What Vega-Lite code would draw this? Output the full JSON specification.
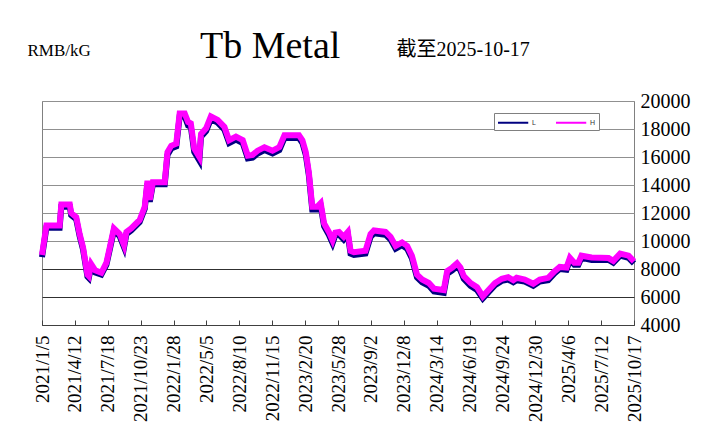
{
  "$schema": "https://vega.github.io/schema/vega-lite/v6.json",
  "width": 592,
  "height": 224,
  "autosize": "none",
  "padding": {"left": 42, "top": 101, "right": 70, "bottom": 107},
  "background": "white",
  "title": {"text": "Tb Metal", "anchor": "start", "frame": "group", "dx": 158, "dy": 57, "offset": 0, "font": "Liberation Serif", "fontSize": 38, "fontWeight": "normal", "color": "black", "baseline": "alphabetic"},
  "config": {
    "view": {"stroke": "#808080", "strokeWidth": 1}
  },
  "data": {"values": [
    {"date": "2021-01-05", "H": 9000, "L": 8850},
    {"date": "2021-01-18", "H": 11100, "L": 10950},
    {"date": "2021-02-26", "H": 11100, "L": 10950},
    {"date": "2021-03-03", "H": 12600, "L": 12450},
    {"date": "2021-03-28", "H": 12600, "L": 12450},
    {"date": "2021-04-01", "H": 12000, "L": 11850},
    {"date": "2021-04-16", "H": 11700, "L": 11550},
    {"date": "2021-04-26", "H": 10500, "L": 10350},
    {"date": "2021-05-06", "H": 9550, "L": 9400},
    {"date": "2021-05-19", "H": 7600, "L": 7450},
    {"date": "2021-05-23", "H": 7500, "L": 7350},
    {"date": "2021-05-30", "H": 8350, "L": 8200},
    {"date": "2021-06-11", "H": 7900, "L": 7750},
    {"date": "2021-06-29", "H": 7730, "L": 7600},
    {"date": "2021-07-14", "H": 8450, "L": 8300},
    {"date": "2021-07-24", "H": 9550, "L": 9400},
    {"date": "2021-08-05", "H": 10900, "L": 10750},
    {"date": "2021-08-22", "H": 10500, "L": 10350},
    {"date": "2021-09-04", "H": 9700, "L": 9550},
    {"date": "2021-09-11", "H": 10650, "L": 10500},
    {"date": "2021-09-25", "H": 10900, "L": 10750},
    {"date": "2021-10-20", "H": 11500, "L": 11350},
    {"date": "2021-11-04", "H": 12450, "L": 12300},
    {"date": "2021-11-12", "H": 14300, "L": 14100},
    {"date": "2021-11-19", "H": 12950, "L": 12800},
    {"date": "2021-11-28", "H": 14200, "L": 14050},
    {"date": "2022-01-02", "H": 14200, "L": 14050},
    {"date": "2022-01-10", "H": 16350, "L": 16150},
    {"date": "2022-01-21", "H": 16800, "L": 16600},
    {"date": "2022-02-05", "H": 16950, "L": 16750},
    {"date": "2022-02-15", "H": 19100, "L": 18900},
    {"date": "2022-03-02", "H": 19100, "L": 18900},
    {"date": "2022-03-12", "H": 18500, "L": 18250},
    {"date": "2022-03-20", "H": 18400, "L": 18150},
    {"date": "2022-03-30", "H": 16600, "L": 16350},
    {"date": "2022-04-14", "H": 16000, "L": 15750},
    {"date": "2022-04-19", "H": 17650, "L": 17450},
    {"date": "2022-05-04", "H": 18050, "L": 17850},
    {"date": "2022-05-18", "H": 18900, "L": 18700},
    {"date": "2022-06-07", "H": 18650, "L": 18450},
    {"date": "2022-06-27", "H": 18150, "L": 17950},
    {"date": "2022-07-11", "H": 17200, "L": 17000},
    {"date": "2022-07-31", "H": 17450, "L": 17250},
    {"date": "2022-08-20", "H": 17200, "L": 17000},
    {"date": "2022-09-04", "H": 16100, "L": 15900},
    {"date": "2022-09-18", "H": 16150, "L": 15950},
    {"date": "2022-10-03", "H": 16450, "L": 16250},
    {"date": "2022-10-23", "H": 16700, "L": 16500},
    {"date": "2022-11-16", "H": 16450, "L": 16250},
    {"date": "2022-12-06", "H": 16700, "L": 16500},
    {"date": "2022-12-21", "H": 17550, "L": 17350},
    {"date": "2023-02-02", "H": 17550, "L": 17350},
    {"date": "2023-02-12", "H": 17200, "L": 17000},
    {"date": "2023-02-22", "H": 16350, "L": 16150},
    {"date": "2023-03-03", "H": 14900, "L": 14700},
    {"date": "2023-03-13", "H": 12450, "L": 12250},
    {"date": "2023-03-28", "H": 12450, "L": 12250},
    {"date": "2023-04-07", "H": 12700, "L": 12500},
    {"date": "2023-04-17", "H": 11250, "L": 11050},
    {"date": "2023-05-01", "H": 10650, "L": 10450},
    {"date": "2023-05-12", "H": 10050, "L": 9850},
    {"date": "2023-05-20", "H": 10600, "L": 10400},
    {"date": "2023-05-31", "H": 10640, "L": 10450},
    {"date": "2023-06-14", "H": 10300, "L": 10100},
    {"date": "2023-06-26", "H": 10640, "L": 10450},
    {"date": "2023-07-04", "H": 9300, "L": 9100},
    {"date": "2023-07-14", "H": 9200, "L": 9000},
    {"date": "2023-08-17", "H": 9300, "L": 9100},
    {"date": "2023-09-01", "H": 10500, "L": 10300},
    {"date": "2023-09-11", "H": 10750, "L": 10550},
    {"date": "2023-10-15", "H": 10650, "L": 10450},
    {"date": "2023-10-30", "H": 10300, "L": 10100},
    {"date": "2023-11-14", "H": 9650, "L": 9450},
    {"date": "2023-12-03", "H": 9900, "L": 9700},
    {"date": "2023-12-18", "H": 9650, "L": 9450},
    {"date": "2024-01-01", "H": 8950, "L": 8750},
    {"date": "2024-01-16", "H": 7600, "L": 7400},
    {"date": "2024-01-31", "H": 7250, "L": 7050},
    {"date": "2024-02-20", "H": 7000, "L": 6800},
    {"date": "2024-03-06", "H": 6600, "L": 6400},
    {"date": "2024-04-04", "H": 6500, "L": 6300},
    {"date": "2024-04-14", "H": 7850, "L": 7650},
    {"date": "2024-04-29", "H": 8100, "L": 7900},
    {"date": "2024-05-13", "H": 8400, "L": 8200},
    {"date": "2024-05-23", "H": 8100, "L": 7900},
    {"date": "2024-06-02", "H": 7500, "L": 7300},
    {"date": "2024-06-22", "H": 7000, "L": 6800},
    {"date": "2024-07-11", "H": 6700, "L": 6500},
    {"date": "2024-07-28", "H": 6050, "L": 5900},
    {"date": "2024-08-14", "H": 6500, "L": 6350},
    {"date": "2024-09-02", "H": 7000, "L": 6850},
    {"date": "2024-09-22", "H": 7300, "L": 7150},
    {"date": "2024-10-11", "H": 7420, "L": 7250},
    {"date": "2024-10-26", "H": 7200, "L": 7050},
    {"date": "2024-11-05", "H": 7370, "L": 7200},
    {"date": "2024-11-29", "H": 7250, "L": 7100},
    {"date": "2024-12-24", "H": 6950, "L": 6800},
    {"date": "2025-01-12", "H": 7250, "L": 7100},
    {"date": "2025-02-06", "H": 7370, "L": 7200},
    {"date": "2025-02-25", "H": 7850, "L": 7700},
    {"date": "2025-03-12", "H": 8150, "L": 8000},
    {"date": "2025-04-01", "H": 8100, "L": 7950},
    {"date": "2025-04-11", "H": 8800, "L": 8650},
    {"date": "2025-04-24", "H": 8450, "L": 8300},
    {"date": "2025-05-06", "H": 8450, "L": 8300},
    {"date": "2025-05-15", "H": 8950, "L": 8800},
    {"date": "2025-06-14", "H": 8820, "L": 8650},
    {"date": "2025-08-03", "H": 8780, "L": 8650},
    {"date": "2025-08-17", "H": 8580, "L": 8450},
    {"date": "2025-09-06", "H": 9100, "L": 8950},
    {"date": "2025-10-01", "H": 8950, "L": 8800},
    {"date": "2025-10-17", "H": 8550, "L": 8400}
  ]},
  "transform": [{"fold": ["L", "H"], "as": ["series", "price"]}],
  "encoding": {
    "x": {
      "field": "date", "type": "temporal",
      "scale": {"type": "utc", "domain": [{"year": 2021, "month": 1, "date": 5, "utc": true}, {"year": 2025, "month": 10, "date": 17, "utc": true}], "nice": false},
      "axis": {
        "values": [
          {"year": 2021, "month": 1, "date": 5, "utc": true},
          {"year": 2021, "month": 4, "date": 12, "utc": true},
          {"year": 2021, "month": 7, "date": 18, "utc": true},
          {"year": 2021, "month": 10, "date": 23, "utc": true},
          {"year": 2022, "month": 1, "date": 28, "utc": true},
          {"year": 2022, "month": 5, "date": 5, "utc": true},
          {"year": 2022, "month": 8, "date": 10, "utc": true},
          {"year": 2022, "month": 11, "date": 15, "utc": true},
          {"year": 2023, "month": 2, "date": 20, "utc": true},
          {"year": 2023, "month": 5, "date": 28, "utc": true},
          {"year": 2023, "month": 9, "date": 2, "utc": true},
          {"year": 2023, "month": 12, "date": 8, "utc": true},
          {"year": 2024, "month": 3, "date": 14, "utc": true},
          {"year": 2024, "month": 6, "date": 19, "utc": true},
          {"year": 2024, "month": 9, "date": 24, "utc": true},
          {"year": 2024, "month": 12, "date": 30, "utc": true},
          {"year": 2025, "month": 4, "date": 6, "utc": true},
          {"year": 2025, "month": 7, "date": 12, "utc": true},
          {"year": 2025, "month": 10, "date": 17, "utc": true}
        ],
        "format": "%Y/%-m/%-d",
        "labelAngle": -90,
        "labelAlign": "right",
        "labelBaseline": "middle",
        "labelFont": "Liberation Serif",
        "labelFontSize": 19,
        "labelColor": "black",
        "labelPadding": 15,
        "labelOverlap": false,
        "labelBound": false,
        "labelFlush": false,
        "tickSize": -5,
        "tickColor": "#404040",
        "domainColor": "#404040",
        "grid": false,
        "title": "截至2025-10-17",
        "titleX": 354,
        "titleY": -270,
        "titleAlign": "left",
        "titleBaseline": "alphabetic",
        "titleAngle": 0,
        "titleFont": "'Liberation Serif', 'Noto Sans CJK SC'",
        "titleFontSize": 20,
        "titleFontWeight": "normal",
        "titleColor": "black"
      }
    },
    "y": {
      "field": "price", "type": "quantitative",
      "scale": {"domain": [4000, 20000], "nice": false, "zero": false},
      "axis": {
        "orient": "right",
        "values": [4000, 6000, 8000, 10000, 12000, 14000, 16000, 18000, 20000],
        "grid": true,
        "gridColor": {"condition": {"test": "datum.value <= 8000", "value": "#303030"}, "value": "#909090"},
        "gridOpacity": 1,
        "ticks": false,
        "domain": false,
        "labelFont": "Liberation Serif",
        "labelFontSize": 20,
        "labelColor": "black",
        "labelPadding": 6,
        "labelOverlap": false,
        "labelBound": false,
        "labelFlush": false,
        "format": "d",
        "title": "RMB/kG",
        "titleX": -607,
        "titleY": -46,
        "titleAlign": "left",
        "titleBaseline": "alphabetic",
        "titleAngle": 0,
        "titleFont": "Liberation Serif",
        "titleFontSize": 17,
        "titleFontWeight": "normal",
        "titleColor": "black"
      }
    },
    "color": {
      "field": "series", "type": "nominal",
      "scale": {"domain": ["L", "H"], "range": ["#000080", "#ff00ff"]},
      "legend": {
        "orient": "none", "legendX": 452, "legendY": 12,
        "direction": "horizontal", "title": null,
        "fillColor": "white", "strokeColor": "#808080",
        "padding": 3,
        "symbolType": "M-1,0H4.5", "symbolSize": 121, "symbolStrokeWidth": 2,
        "labelFont": "Liberation Sans", "labelFontSize": 7, "labelColor": "#333333",
        "labelOffset": 22, "columnPadding": 16
      }
    }
  },
  "layer": [
    {
      "transform": [{"filter": "datum.series === 'L'"}],
      "mark": {"type": "line", "strokeWidth": 6}
    },
    {
      "transform": [{"filter": "datum.series === 'H'"}],
      "mark": {"type": "line", "strokeWidth": 6}
    }
  ]
}
